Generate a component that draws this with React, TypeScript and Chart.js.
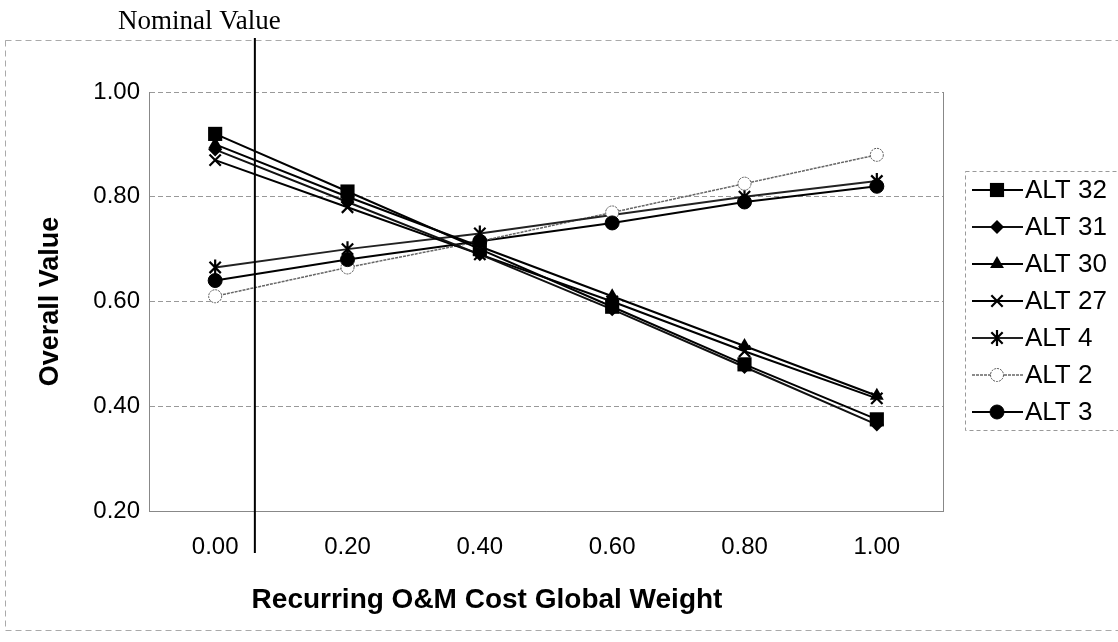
import React, { useEffect, useRef } from "react";
import { Chart, registerables } from "chart.js";

Chart.register(...registerables);

const weightLabels = ["0.00", "0.20", "0.40", "0.60", "0.80", "1.00"];
const alt32 = [0.92, 0.81, 0.70, 0.59, 0.48, 0.375];
const alt31 = [0.89, 0.79, 0.69, 0.585, 0.475, 0.365];
const alt30 = [0.90, 0.80, 0.705, 0.61, 0.515, 0.42];
const alt27 = [0.87, 0.78, 0.69, 0.60, 0.505, 0.415];
const alt4 = [0.665, 0.70, 0.73, 0.765, 0.80, 0.83];
const alt2 = [0.61, 0.665, 0.715, 0.77, 0.825, 0.88];
const alt3 = [0.64, 0.68, 0.715, 0.75, 0.79, 0.82];
const seriesNames = ["ALT 32", "ALT 31", "ALT 30", "ALT 27", "ALT 4", "ALT 2", "ALT 3"];
const nominalWeight = 0.06;
const nominalLabel = "Nominal Value";
const xTitle = "Recurring O&M Cost Global Weight";
const yTitle = "Overall Value";

type Style = { pointStyle: string; radius: number; fill: string; stroke: string; lineColor: string; lineWidth: number; dash: number[] };
const styles: Style[] = [
  { pointStyle: "rect", radius: 10, fill: "#000", stroke: "#000", lineColor: "#000", lineWidth: 2, dash: [] },
  { pointStyle: "rectRot", radius: 7, fill: "#000", stroke: "#000", lineColor: "#111", lineWidth: 2, dash: [] },
  { pointStyle: "triangle", radius: 8, fill: "#000", stroke: "#000", lineColor: "#000", lineWidth: 2, dash: [] },
  { pointStyle: "crossRot", radius: 8, fill: "#000", stroke: "#000", lineColor: "#000", lineWidth: 2, dash: [] },
  { pointStyle: "star", radius: 8, fill: "#000", stroke: "#000", lineColor: "#222", lineWidth: 2, dash: [] },
  { pointStyle: "circle", radius: 6.5, fill: "#fff", stroke: "#555", lineColor: "#666", lineWidth: 1.5, dash: [3, 1] },
  { pointStyle: "circle", radius: 7, fill: "#000", stroke: "#000", lineColor: "#000", lineWidth: 2, dash: [] },
];

const FONT = "'Liberation Sans', Arial, sans-serif";

function drawMarker(ctx: CanvasRenderingContext2D, s: Style, x: number, y: number) {
  ctx.save();
  ctx.fillStyle = s.fill;
  ctx.strokeStyle = s.stroke;
  ctx.lineWidth = s.pointStyle === "crossRot" || s.pointStyle === "star" ? 2.2 : 1;
  ctx.setLineDash(s.pointStyle === "circle" && s.fill === "#fff" ? [2, 1] : []);
  const r = s.radius;
  ctx.beginPath();
  switch (s.pointStyle) {
    case "rect": {
      const h = Math.SQRT1_2 * r;
      ctx.rect(x - h, y - h, 2 * h, 2 * h);
      ctx.fill();
      break;
    }
    case "rectRot":
      ctx.moveTo(x, y - r); ctx.lineTo(x + r, y); ctx.lineTo(x, y + r); ctx.lineTo(x - r, y); ctx.closePath(); ctx.fill();
      break;
    case "triangle":
      ctx.moveTo(x, y - r); ctx.lineTo(x + r * 0.866, y + r * 0.5); ctx.lineTo(x - r * 0.866, y + r * 0.5); ctx.closePath(); ctx.fill();
      break;
    case "crossRot": {
      const d = r * 0.707;
      ctx.moveTo(x - d, y - d); ctx.lineTo(x + d, y + d); ctx.moveTo(x + d, y - d); ctx.lineTo(x - d, y + d); ctx.stroke();
      break;
    }
    case "star": {
      const d = r * 0.707;
      ctx.moveTo(x - d, y - d); ctx.lineTo(x + d, y + d); ctx.moveTo(x + d, y - d); ctx.lineTo(x - d, y + d);
      ctx.moveTo(x, y - r); ctx.lineTo(x, y + r); ctx.stroke();
      break;
    }
    default:
      ctx.arc(x, y, r, 0, Math.PI * 2); ctx.fill(); ctx.stroke();
  }
  ctx.restore();
}

const decorPlugin = {
  id: "decor",
  beforeDraw(chart: any) {
    const ctx = chart.ctx as CanvasRenderingContext2D;
    ctx.save();
    ctx.fillStyle = "#fff";
    ctx.fillRect(0, 0, chart.width, chart.height);
    ctx.strokeStyle = "#aaa";
    ctx.lineWidth = 1;
    ctx.setLineDash([6, 4]);
    ctx.strokeRect(5.5, 40.5, chart.width + 10, 590);
    ctx.restore();
  },
  afterDatasetsDraw(chart: any) {
    const ctx = chart.ctx as CanvasRenderingContext2D;
    const xs = chart.scales.x;
    const area = chart.chartArea;
    ctx.save();
    ctx.strokeStyle = "#888";
    ctx.lineWidth = 1;
    ctx.beginPath();
    ctx.moveTo(Math.round(area.right) + 0.5, area.top);
    ctx.lineTo(Math.round(area.right) + 0.5, area.bottom);
    ctx.stroke();
    const p0 = xs.getPixelForValue(0);
    const p1 = xs.getPixelForValue(1);
    const nx = p0 + ((p1 - p0) * nominalWeight) / 0.2;
    ctx.strokeStyle = "#000";
    ctx.lineWidth = 2;
    ctx.beginPath();
    ctx.moveTo(nx, 38);
    ctx.lineTo(nx, 553);
    ctx.stroke();
    ctx.fillStyle = "#000";
    ctx.font = "27px 'Liberation Serif', 'Times New Roman', serif";
    ctx.textBaseline = "middle";
    ctx.textAlign = "left";
    ctx.fillText(nominalLabel, 118, 22);
    // x axis title
    ctx.font = `bold 28px ${FONT}`;
    ctx.textAlign = "center";
    ctx.fillText(xTitle, 487, 600);
    ctx.textAlign = "left";
    const lx = 965, ly = 171, lb = 430;
    ctx.strokeStyle = "#999";
    ctx.lineWidth = 1;
    ctx.setLineDash([4, 3]);
    ctx.strokeRect(lx + 0.5, ly + 0.5, chart.width - lx + 5, lb - ly);
    ctx.setLineDash([]);
    ctx.font = `26px ${FONT}`;
    chart.data.datasets.forEach((ds: any, i: number) => {
      const s = styles[i];
      const y = 190 + i * 37;
      ctx.save();
      ctx.strokeStyle = s.lineColor;
      ctx.lineWidth = s.lineWidth;
      ctx.setLineDash(s.dash);
      ctx.beginPath();
      ctx.moveTo(972, y);
      ctx.lineTo(1023, y);
      ctx.stroke();
      ctx.restore();
      drawMarker(ctx, s, 997, y);
      ctx.fillStyle = "#000";
      ctx.fillText(ds.label, 1025, y + 1);
    });
    ctx.restore();
  },
};

const pointPlugin = {
  id: "markers",
  afterDatasetsDraw(chart: any) {
    const ctx = chart.ctx as CanvasRenderingContext2D;
    chart.data.datasets.forEach((ds: any, i: number) => {
      const meta = chart.getDatasetMeta(i);
      meta.data.forEach((pt: any) => drawMarker(ctx, styles[i], pt.x, pt.y));
    });
  },
};

export default function App() {
  const ref = useRef<HTMLCanvasElement | null>(null);
  useEffect(() => {
    document.body.style.margin = "0";
    const allSeries = [alt32, alt31, alt30, alt27, alt4, alt2, alt3];
    const chart = new Chart(ref.current as HTMLCanvasElement, {
      type: "line",
      data: {
        labels: weightLabels,
        datasets: allSeries.map((d, i) => ({
          label: seriesNames[i],
          data: d,
          borderColor: styles[i].lineColor,
          borderWidth: styles[i].lineWidth,
          borderDash: styles[i].dash,
          pointRadius: 0,
          fill: false,
          tension: 0,
        })),
      },
      options: {
        animation: false,
        responsive: false,
        devicePixelRatio: 1,
        layout: { padding: { top: 92, right: 175, bottom: 0, left: 0 } },
        plugins: { legend: { display: false }, tooltip: { enabled: false } },
        scales: {
          x: {
            type: "category",
            offset: true,
            grid: { display: false, drawTicks: false },
            border: { display: true, color: "#888", dash: [5, 3] },
            ticks: { color: "#000", font: { family: FONT, size: 24 }, padding: 22 },
            title: { display: false, text: xTitle },
            afterFit: (s: any) => { s.height = 131; },
          },
          y: {
            min: 0.2,
            max: 1.0,
            ticks: { stepSize: 0.2, color: "#000", font: { family: FONT, size: 24 }, padding: 9, callback: (v: any) => Number(v).toFixed(2) },
            grid: { color: "#999", drawTicks: false, lineWidth: 1 },
            border: { display: true, color: "#888", dash: [5, 3] },
            title: { display: true, text: yTitle, color: "#000", font: { family: FONT, size: 27, weight: "bold" }, padding: { top: 34, bottom: 4 } },
            afterFit: (s: any) => { s.width = 149; },
          },
        },
      } as any,
      plugins: [decorPlugin, pointPlugin],
    });
    return () => chart.destroy();
  }, []);
  return (
    <div style={{ position: "absolute", left: 0, top: 0, width: 1118, height: 642 }}>
      <canvas ref={ref} width={1118} height={642} style={{ width: 1118, height: 642 }} />
    </div>
  );
}
